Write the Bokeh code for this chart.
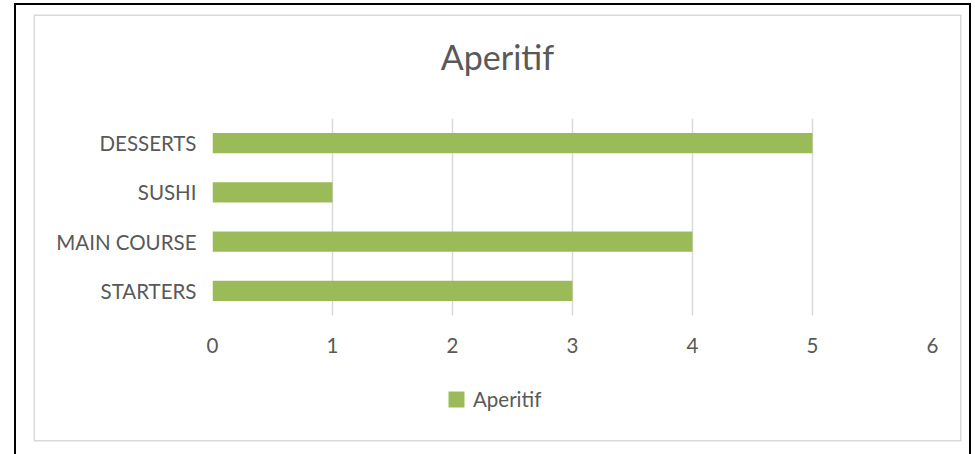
from bokeh.plotting import figure
from bokeh.layouts import column
from bokeh.models import Range1d, FactorRange, Legend, LegendItem, Label, FixedTicker
from bokeh.embed import file_html
from bokeh.resources import INLINE

title_text = "Aperitif"
series_name = "Aperitif"
categories = ["STARTERS", "MAIN COURSE", "SUSHI", "DESSERTS"]
values = [3, 4, 1, 5]
x_ticks = [0, 1, 2, 3, 4, 5, 6]

FONT = "Lato"
TEXT_COLOR = "#595959"
BAR_COLOR = "#9BBB59"
GRID_COLOR = "#d9d9d9"
W = 925


def blank(height):
    f = figure(width=W, height=height,
               x_range=Range1d(x_ticks[0], x_ticks[-1]),
               y_range=FactorRange(factors=categories),
               x_axis_type=None, y_axis_type=None,
               output_backend="svg", toolbar_location=None,
               min_border=0, min_border_left=0, min_border_right=0,
               min_border_top=0, min_border_bottom=0)
    f.outline_line_color = None
    f.background_fill_color = "white"
    f.border_fill_color = "white"
    return f


# ---- header with title ----
head = blank(102)
head.add_layout(Label(x=285, y=62, x_units="screen", y_units="screen",
                      text=title_text, text_align="center", text_baseline="alphabetic",
                      text_font=FONT, text_font_size="34px", text_color=TEXT_COLOR))

# ---- main chart ----
p = figure(
    width=W, height=268,
    y_range=FactorRange(factors=categories),
    x_range=Range1d(x_ticks[0], x_ticks[-1]),
    output_backend="svg", toolbar_location=None,
    min_border_left=177, min_border_right=28,
    min_border_top=0, min_border_bottom=71,
)
p.outline_line_color = None
p.background_fill_color = "white"
p.border_fill_color = "white"

r = p.hbar(y=categories, right=values, height=0.41, left=0,
           fill_color=BAR_COLOR, line_color=None)

p.xaxis.ticker = FixedTicker(ticks=x_ticks)
for ax in (p.xaxis[0], p.yaxis[0]):
    ax.axis_line_color = None
    ax.major_tick_line_color = None
    ax.minor_tick_line_color = None
    ax.major_tick_out = 0
    ax.major_tick_in = 0
    ax.major_label_text_font = FONT
    ax.major_label_text_font_size = "20.5px"
    ax.major_label_text_color = TEXT_COLOR
p.xaxis.major_label_standoff = 22
p.yaxis.major_label_standoff = 16

p.xgrid.grid_line_color = GRID_COLOR
p.xgrid.grid_line_width = 1.5
p.xgrid.ticker = FixedTicker(ticks=x_ticks)
p.ygrid.grid_line_color = None

# ---- footer with legend (legend proxy renderer is hidden) ----
foot = blank(54)
lr = foot.hbar(y=categories, right=values, height=0.41, left=0,
               fill_color=BAR_COLOR, line_color=None, visible=False)
legend = Legend(items=[LegendItem(label=series_name, renderers=[lr])],
                location=(234, 29), orientation="horizontal",
                padding=0, margin=0, spacing=0,
                glyph_width=20, glyph_height=20, label_height=20,
                label_standoff=7,
                label_text_font=FONT, label_text_font_size="20.5px",
                label_text_color=TEXT_COLOR,
                inactive_fill_alpha=0,
                border_line_color=None, background_fill_alpha=0)
foot.add_layout(legend)

layout = column(head, p, foot, spacing=0, width=W, height=424)
layout.margin = (16, 0, 0, 35)
layout.styles = {
    "box-shadow": "0 0 0 1.5px #d9d9d9, -5px 3px 0 14px white, -5px 3px 0 16px black",
    "background-color": "white",
}

open("out.html", "w").write(file_html(layout, INLINE))
